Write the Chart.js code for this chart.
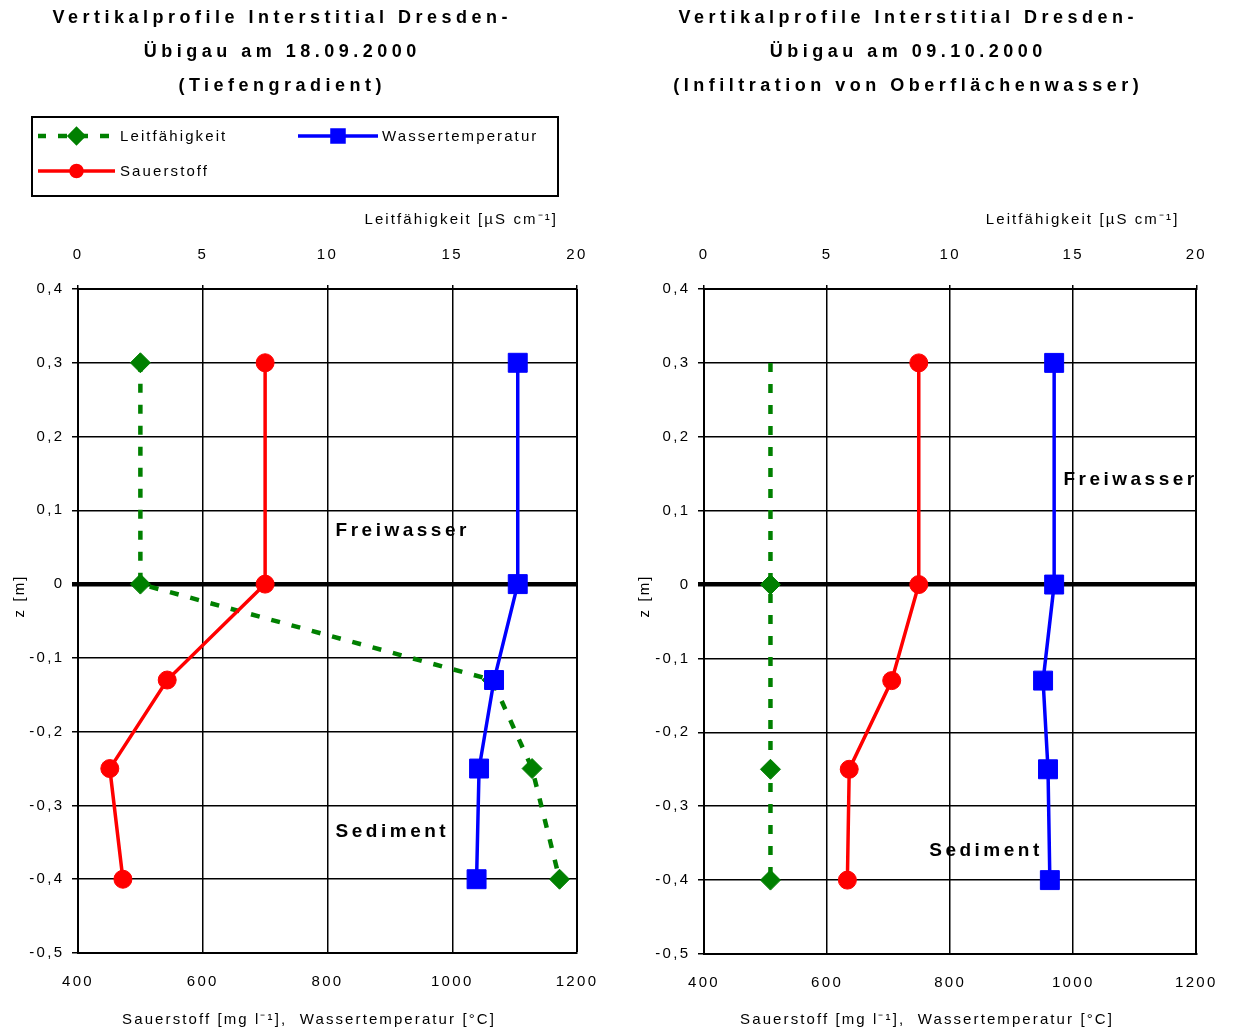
<!DOCTYPE html>
<html><head><meta charset="utf-8">
<script src="https://cdn.jsdelivr.net/npm/chart.js@4.4.1/dist/chart.umd.min.js"></script>
<style>
html,body{margin:0;padding:0;background:#fff;}
#wrap{position:relative;width:1233px;height:1031px;overflow:hidden;}
#c1{position:absolute;left:0;top:0;}
#c2{position:absolute;left:620px;top:0;}
</style></head><body>
<div id="wrap">
<canvas id="c1" width="620" height="1031"></canvas>
<canvas id="c2" width="613" height="1031"></canvas>
</div>
<script>
// ---------- data ----------
const depth = [0.3, 0, -0.13, -0.25, -0.4];
// Chart 1: 18.09.2000
const leit1  = [2.5, 2.5, 16.6, 18.2, 19.3];
const sauer1 = [700, 700, 543, 451, 472];
const temp1  = [1105, 1105, 1067, 1043, 1039];
// Chart 2: 09.10.2000
const leit2  = [2.7, 2.7, 2.7, 2.7, 2.7];
const sauer2 = [749, 749, 705, 636, 633];
const temp2  = [969, 969, 951, 959, 962];
// tick labels
const xBottomLabels = ['400', '600', '800', '1000', '1200'];
const xTopLabels = ['0', '5', '10', '15', '20'];
const yLabels = ['-0,5', '-0,4', '-0,3', '-0,2', '-0,1', '0', '0,1', '0,2', '0,3', '0,4'];
// texts
const seriesNames = ['Leitfähigkeit', 'Wassertemperatur', 'Sauerstoff'];
const title1 = ['Vertikalprofile Interstitial Dresden-', 'Übigau am 18.09.2000', '(Tiefengradient)'];
const title2 = ['Vertikalprofile Interstitial Dresden-', 'Übigau am 09.10.2000', '(Infiltration von Oberflächenwasser)'];
const topAxisTitle = 'Leitfähigkeit [µS cm⁻¹]';
const bottomAxisTitle = 'Sauerstoff [mg l⁻¹],  Wassertemperatur [°C]';
const yAxisTitle = 'z [m]';
const zoneFree = 'Freiwasser';
const zoneSed = 'Sediment';

const FONT = "'Liberation Sans', Arial, Helvetica, sans-serif";
const GREEN = '#008000', RED = '#ff0000', BLUE = '#0000ff';
const TXT = '15px ' + FONT, TXT_SP = 2.1;

function pts(xs) { return xs.map((v, i) => ({x: v, y: depth[i]})); }

function spacedText(ctx, text, x, y, font, spacing, align) {
  ctx.save();
  ctx.font = font;
  try { ctx.letterSpacing = spacing + 'px'; } catch (e) {}
  ctx.fillStyle = '#000';
  ctx.textBaseline = 'middle';
  ctx.textAlign = 'left';
  const w = ctx.measureText(text).width - spacing;
  let sx = x;
  if (align === 'center') sx = x - w / 2;
  else if (align === 'right') sx = x - w;
  ctx.fillText(text, sx, y);
  ctx.restore();
}

const deco = {
  id: 'deco',
  beforeDraw(chart) {
    try { chart.ctx.letterSpacing = '2.3px'; } catch (e) {}
  },
  afterDraw(chart, args, o) {
    const ctx = chart.ctx;
    const ca = chart.chartArea;
    const sx = chart.scales.x, sy = chart.scales.y;
    // titles
    o.title.forEach((t, i) => spacedText(ctx, t, o.titleX, 18 + i * 34, 'bold 18px ' + FONT, 4.5, 'center'));
    // axis titles
    spacedText(ctx, topAxisTitle, ca.right - o.topTitleOff, 220, TXT, TXT_SP, 'right');
    spacedText(ctx, bottomAxisTitle, o.bottomTitleX, 1020, TXT, TXT_SP, 'center');
    ctx.save();
    ctx.translate(o.yTitleX, 597);
    ctx.rotate(-Math.PI / 2);
    spacedText(ctx, yAxisTitle, 0, 0, TXT, TXT_SP, 'center');
    ctx.restore();
    // zone labels
    spacedText(ctx, zoneFree, sx.getPixelForValue(o.free[0]), sy.getPixelForValue(o.free[1]), 'bold 19px ' + FONT, 3.5, 'left');
    spacedText(ctx, zoneSed, sx.getPixelForValue(o.sed[0]), sy.getPixelForValue(o.sed[1]), 'bold 19px ' + FONT, 3.5, 'left');
    // legend
    if (o.legend) {
      ctx.save();
      ctx.lineWidth = 2;
      ctx.strokeStyle = '#000';
      ctx.strokeRect(32, 117, 526, 79);
      ctx.restore();
      const items = [
        {ds: chart.data.datasets[2], x1: 38, x2: 115, y: 136, tx: 120, r: 6.5},
        {ds: chart.data.datasets[0], x1: 298, x2: 378, y: 136, tx: 382, r: 8.5},
        {ds: chart.data.datasets[1], x1: 38, x2: 115, y: 171, tx: 120, r: 5.5}
      ];
      items.forEach(it => {
        const ds = it.ds;
        ctx.save();
        ctx.strokeStyle = ds.borderColor;
        ctx.lineWidth = ds.borderWidth;
        ctx.setLineDash(ds.borderDash || []);
        if (ds.borderDash) ctx.lineDashOffset = 1;
        ctx.beginPath();
        ctx.moveTo(it.x1, it.y);
        ctx.lineTo(it.x2, it.y);
        ctx.stroke();
        ctx.setLineDash([]);
        ctx.fillStyle = ds.pointBackgroundColor;
        ctx.strokeStyle = ds.pointBackgroundColor;
        Chart.helpers.drawPoint(ctx, {pointStyle: ds.pointStyle, radius: it.r, rotation: 0, borderWidth: 1}, (it.x1 + it.x2) / 2, it.y);
        ctx.restore();
        spacedText(ctx, ds.label, it.tx, it.y + 1, TXT, TXT_SP, 'left');
      });
    }
  }
};

function makeChart(id, leit, sauer, temp, cfg) {
  const tickFont = {family: FONT, size: 15};
  return new Chart(document.getElementById(id), {
    type: 'scatter',
    data: {
      datasets: [
        {label: seriesNames[1], data: pts(temp), xAxisID: 'x', yAxisID: 'y', showLine: true,
         borderColor: BLUE, borderWidth: 3.5, pointStyle: 'rect', pointRadius: 13.4,
         pointBackgroundColor: BLUE, pointBorderColor: BLUE, pointBorderWidth: 1, order: 0},
        {label: seriesNames[2], data: pts(sauer), xAxisID: 'x', yAxisID: 'y', showLine: true,
         borderColor: RED, borderWidth: 3.5, pointStyle: 'circle', pointRadius: 9,
         pointBackgroundColor: RED, pointBorderColor: RED, pointBorderWidth: 1, order: 1},
        {label: seriesNames[0], data: pts(leit), xAxisID: 'x2', yAxisID: 'y', showLine: true,
         borderColor: GREEN, borderWidth: 4.5, borderDash: [9, 12], tension: 0,
         pointStyle: 'rectRot', pointRadius: cfg.greenRadius,
         pointBackgroundColor: GREEN, pointBorderColor: GREEN, pointBorderWidth: 1, order: 2}
      ]
    },
    options: {
      responsive: false, animation: false, devicePixelRatio: 1,
      layout: {padding: {top: 240, left: 0, right: cfg.padRight, bottom: 0}},
      plugins: {legend: {display: false}, tooltip: {enabled: false}, deco: cfg.deco},
      scales: {
        x: {type: 'linear', position: 'bottom', min: 400, max: 1200,
            ticks: {stepSize: 200, padding: 20, color: '#000', font: tickFont, maxRotation: 0,
                    callback: (v, i) => xBottomLabels[i]},
            grid: {color: '#000', lineWidth: c => (c.tick && c.tick.value === 1200) ? 2 : 1.5, drawTicks: false},
            border: {color: '#000', width: 2},
            afterFit: s => { s.height = 1031 - cfg.bottom; }},
        x2: {type: 'linear', position: 'top', min: 0, max: 20,
             ticks: {stepSize: 5, padding: 21, color: '#000', font: tickFont, maxRotation: 0,
                     callback: (v, i) => xTopLabels[i]},
             grid: {drawOnChartArea: false, color: '#000', lineWidth: 1.5, tickLength: 4},
             border: {color: '#000', width: 2},
             afterFit: s => { s.height = 49; }},
        y: {type: 'linear', position: 'left', min: -0.5, max: 0.4,
            ticks: {stepSize: 0.1, padding: 7.7, color: '#000', font: tickFont,
                    callback: (v, i) => yLabels[i]},
            grid: {color: '#000', tickLength: 6,
                   lineWidth: c => (c.tick && Math.abs(c.tick.value) < 1e-9) ? 4.5 : 1.5},
            border: {color: '#000', width: 2},
            afterFit: s => { s.width = cfg.left; }}
      }
    },
    plugins: [deco]
  });
}

makeChart('c1', leit1, sauer1, temp1, {
  greenRadius: 10, padRight: 43, left: 78, bottom: 953,
  deco: {title: title1, titleX: 280, topTitleOff: 21, bottomTitleX: 308, yTitleX: 20,
         free: [813, 0.072], sed: [813, -0.335], legend: true}
});
makeChart('c2', leit2, sauer2, temp2, {
  greenRadius: [0, 10, 0, 10, 10], padRight: 31, left: 84, bottom: 954,
  deco: {title: title2, titleX: 286, topTitleOff: 19, bottomTitleX: 306, yTitleX: 25,
         free: [984, 0.142], sed: [766, -0.36], legend: false}
});
</script>
</body></html>
